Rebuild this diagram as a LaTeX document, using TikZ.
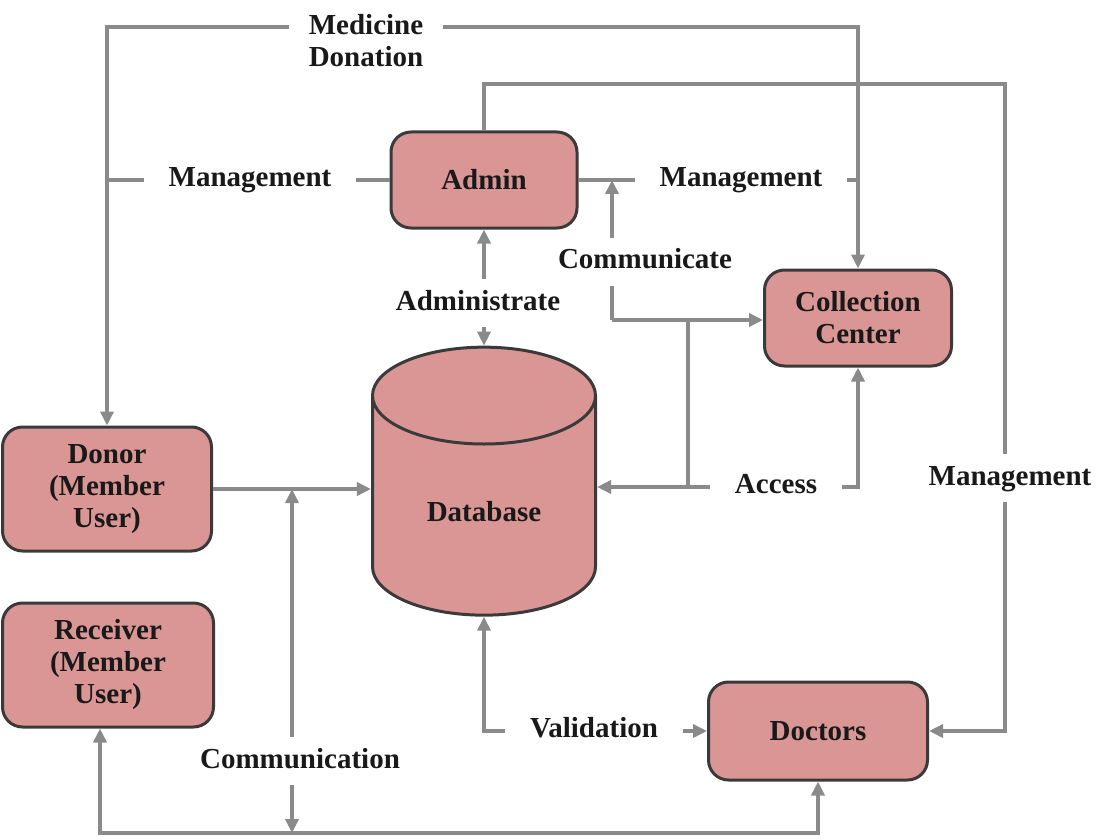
\documentclass[tikz,border=0pt]{standalone}
\usepackage{fontspec}
\setmainfont{Liberation Serif}
\usetikzlibrary{shapes.geometric,arrows.meta}
\definecolor{boxfill}{RGB}{217,150,148}
\definecolor{boxline}{RGB}{58,58,58}
\definecolor{linkgray}{RGB}{138,138,138}

\begin{document}
\begin{tikzpicture}[x=1pt,y=-1pt,>={Triangle[length=14pt,width=13pt]},
    every node/.style={font=\fontsize{29}{32}\selectfont\bfseries,text=black!90},
    entity/.style={draw=boxline,fill=boxfill,line width=3pt,align=center},
    box/.style={entity,rectangle,rounded corners=20pt},
    link/.style={draw=linkgray,line width=4pt},
    lbl/.style={fill=white,inner xsep=25pt,inner ysep=10pt,text height=21pt,text depth=7pt}]
    \useasboundingbox (0,0) rectangle (1120,840);

    % entities
    \node[box,minimum width=186pt,minimum height=96pt] (admin) at (484,180) {Admin};
    \node[box,minimum width=187pt,minimum height=96pt] (cc) at (858,318) {Collection\\Center};
    \node[box,minimum width=209pt,minimum height=124pt] (donor) at (107,489) {Donor\\(Member\\User)};
    \node[box,minimum width=211pt,minimum height=124pt] (receiver) at (108,665) {Receiver\\(Member\\User)};
    \node[box,minimum width=219pt,minimum height=98pt] (doctors) at (818,731) {Doctors};
    \node[entity,cylinder,shape border rotate=90,aspect=0.8,minimum width=223pt,minimum height=268pt] (db) at (484,512) {Database};

    % free corners of the connectors
    \coordinate (topL) at (107,27);
    \coordinate (topR) at (858,27);
    \coordinate (rtop) at (1005,84);
    \coordinate (cm) at (612,320);
    \coordinate (acc) at (688,487);
    \coordinate (botL) at (100,833);
    \coordinate (cmb) at (292,833);

    % connectors
    \draw[link,<->] (donor.north) -- (topL) -- (topR) -- (cc.north);
    \draw[link] (admin.west) -- (admin.west -| topL);
    \draw[link] (admin.east) -- (admin.east -| cc.north);
    \draw[link,->] (admin.north) |- (rtop) |- (doctors.east);
    \draw[link,<->] (admin.south) -- (db.north);
    \draw[link,->] (cm) -- (cm |- admin.east);
    \draw[link,->] (cm) -- (cm -| cc.west);
    \draw[link,->] (acc |- cm) -- (acc) -- (acc -| db.east);
    \draw[link,->] (acc) -| (cc.south);
    \draw[link,->] (donor.east) -- (donor.east -| db.west);
    \draw[link,<->] (botL |- receiver.south) -- (botL) -| (doctors.south);
    \draw[link,<->] (cmb) -- (cmb |- donor.east);
    \draw[link,<->] (db.south) |- (doctors.west);

    % labels
    \node[fill=white,inner xsep=20pt,inner ysep=6pt,align=center] (medlbl) at (366,41) {Medicine\\Donation};
    \node[lbl] (mgl1) at (250,180) {Management};
    \node[lbl] (mgl2) at (741,180) {Management};
    \node[lbl,inner xsep=2pt] (comlbl) at (645,262) {Communicate};
    \node[lbl,inner xsep=2pt] (admlbl) at (478,303) {Administrate};
    \node[lbl] (acclbl) at (776,486) {Access};
    \node[lbl,inner xsep=2pt] (mglR) at (1010,478) {Management};
    \node[lbl] (vallbl) at (594,730) {Validation};
    \node[lbl,inner xsep=2pt] (comlbl2) at (300,761) {Communication};
\end{tikzpicture}
\end{document}
